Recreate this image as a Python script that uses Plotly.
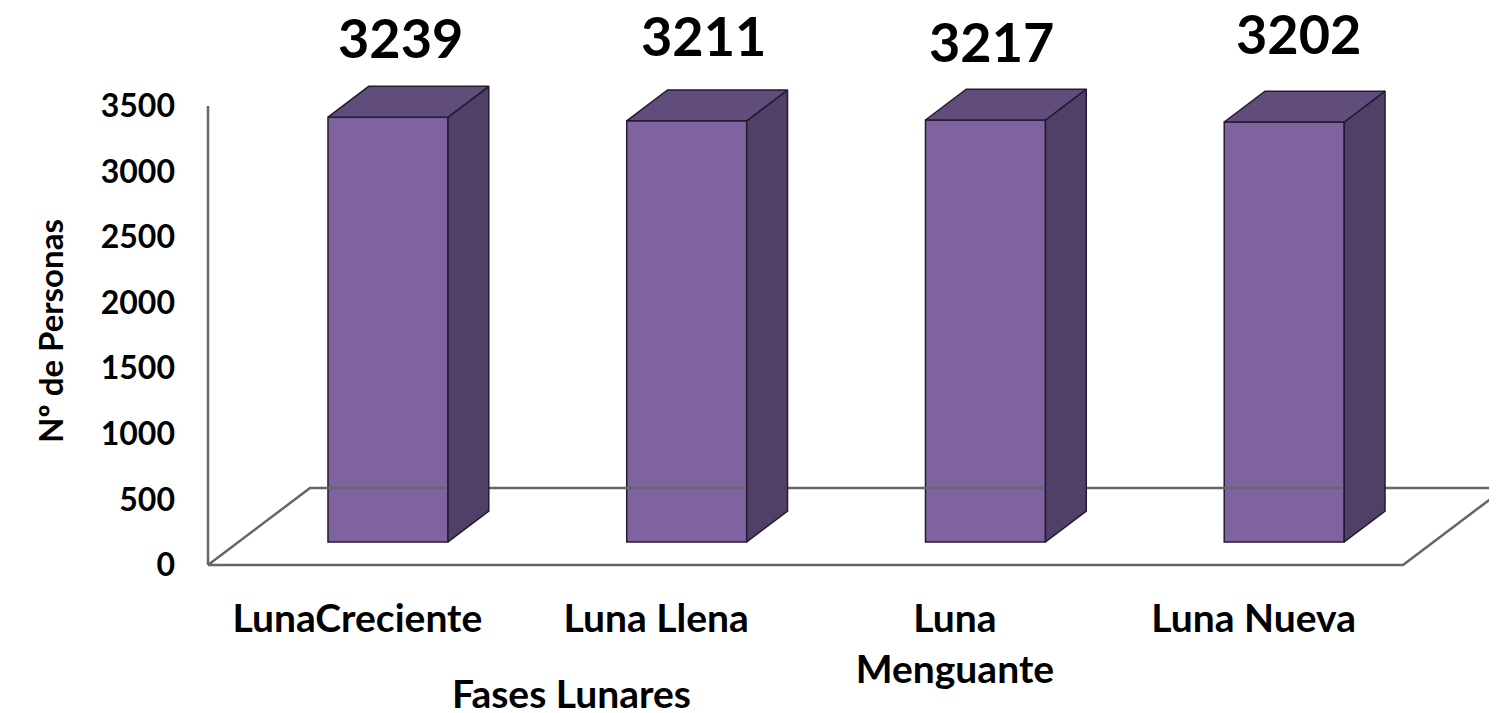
import plotly.graph_objects as go

PHASES = ["LunaCreciente", "Luna Llena", "Luna<br>Menguante", "Luna Nueva"]
PEOPLE = [3239, 3211, 3217, 3202]
Y_TICKS = [0, 500, 1000, 1500, 2000, 2500, 3000, 3500]

# page / projection constants (the page body adds an 8 px margin)
PAGE_W, PAGE_H, BODY = 1497, 713, 8
W, H = PAGE_W - BODY, PAGE_H - BODY
M_L, M_R, M_T, M_B = 192, 0, 0, 140
PLOT_W, PLOT_H = W - M_L - M_R, H - M_T - M_B
X_PX = 298.75            # pixels per category slot
Y_PX = 459 / 3500        # pixels per person
FLOOR_DX, FLOOR_DY = 102 / X_PX, 77 / Y_PX   # floor depth in axis units
BAR_FRONT, BAR_DEPTH = 0.3, 0.4              # fractions of the floor depth
BAR_W = 120 / X_PX

FONT = "Lato"
FRONT_C, SIDE_C, TOP_C, EDGE_C = "#7f63a0", "#503f67", "#614d7c", "#241b30"
FLOOR_C = "#666666"

x_lo = -0.5 - 8 / X_PX
y_lo = -8 / Y_PX
x_range = [x_lo, x_lo + PLOT_W / X_PX]
y_range = [y_lo, y_lo + PLOT_H / Y_PX]

n = len(PEOPLE)
idx = list(range(n))
bx, by = FLOOR_DX * BAR_FRONT, FLOOR_DY * BAR_FRONT
dx, dy = FLOOR_DX * BAR_DEPTH, FLOOR_DY * BAR_DEPTH

fig = go.Figure()

# floor and the value axis line
fig.add_trace(go.Scatter(
    x=[-0.5, n - 0.5, n - 0.5 + FLOOR_DX, -0.5 + FLOOR_DX, -0.5],
    y=[0, 0, FLOOR_DY, FLOOR_DY, 0], mode="lines",
    line=dict(color=FLOOR_C, width=2.5), hoverinfo="skip", showlegend=False))
fig.add_trace(go.Scatter(
    x=[-0.5, -0.5], y=[0, Y_TICKS[-1]], mode="lines",
    line=dict(color=FLOOR_C, width=2.5), hoverinfo="skip", showlegend=False))

# front faces
fig.add_trace(go.Bar(
    x=idx, y=PEOPLE, base=by, width=BAR_W, offset=bx - BAR_W / 2,
    marker=dict(color=FRONT_C, line=dict(color=EDGE_C, width=1.5)),
    showlegend=False))

# side and top faces
for i, v in zip(idx, PEOPLE):
    xl = i + bx - BAR_W / 2
    xr = xl + BAR_W
    top = by + v
    fig.add_trace(go.Scatter(
        x=[xr, xr + dx, xr + dx, xr, xr], y=[by, by + dy, top + dy, top, by],
        mode="lines", fill="toself", fillcolor=SIDE_C,
        line=dict(color=EDGE_C, width=1.5), hoverinfo="skip", showlegend=False))
    fig.add_trace(go.Scatter(
        x=[xl, xr, xr + dx, xl + dx, xl], y=[top, top, top + dy, top + dy, top],
        mode="lines", fill="toself", fillcolor=TOP_C,
        line=dict(color=EDGE_C, width=1.5), hoverinfo="skip", showlegend=False))

# value labels (dragged about a little in the original)
label_dx = [-8, -4, -14, -6]
label_dy = [49, 55, 48, 58]
for i, v in zip(idx, PEOPLE):
    fig.add_annotation(
        x=i + bx + dx / 2, y=by + v + dy, text=str(v), showarrow=False,
        xshift=label_dx[i], yshift=label_dy[i], yanchor="middle",
        font=dict(family=FONT, size=54, weight="bold", color="black"))

fig.add_annotation(
    x=0.718, xref="x", y=-120 / PLOT_H, yref="paper",
    text="Fases Lunares", showarrow=False, yanchor="middle",
    font=dict(family=FONT, size=39, weight="bold", color="black"))
fig.add_annotation(
    x=-172 / PLOT_W, xref="paper", y=242 / PLOT_H, yref="paper", textangle=-90,
    text="Nº de Personas", showarrow=False,
    font=dict(family=FONT, size=33, weight="bold", color="black"))

fig.update_xaxes(
    range=x_range, tickvals=idx, ticktext=PHASES, showgrid=False, zeroline=False,
    showline=False, ticks="", ticklabelstandoff=19,
    tickfont=dict(family=FONT, size=39, weight="bold", color="black"))
fig.update_yaxes(
    range=y_range, tickvals=Y_TICKS, showgrid=False, zeroline=False,
    showline=False, ticks="", ticklabelstandoff=24,
    tickfont=dict(family=FONT, size=32, weight="bold", color="black"))
fig.update_layout(
    width=W, height=H, margin=dict(l=M_L, r=M_R, t=M_T, b=M_B),
    plot_bgcolor="white", paper_bgcolor="white", showlegend=False)

fig.write_html("out.html")
